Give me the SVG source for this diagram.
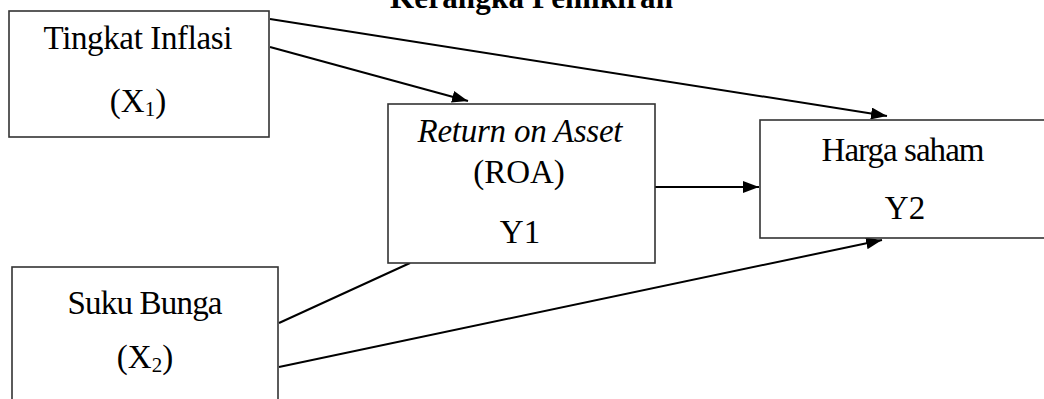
<svg xmlns="http://www.w3.org/2000/svg" width="1044" height="399" viewBox="0 0 1044 399">
<style>
.box{fill:#fff;stroke:#333;stroke-width:1.6}
.t{font-family:"Liberation Serif","Times New Roman",serif;font-size:33px;fill:#000;text-anchor:middle}
.it{font-style:italic}
.title{font-family:"Liberation Serif","Times New Roman",serif;font-size:31px;font-weight:bold;fill:#000}
.c{stroke:#000;stroke-width:2;fill:none}
</style>
<defs>
<marker id="ah" viewBox="0 0 16 12" refX="16" refY="6" markerWidth="16" markerHeight="12" markerUnits="userSpaceOnUse" orient="auto">
<path d="M0,0 L16,6 L0,12 Z" fill="#000"/>
</marker>
</defs>
<rect width="1044" height="399" fill="#fff"/>
<text class="title" x="390" y="8" textLength="283">Kerangka Pemikiran</text>
<g id="connectors">
<line class="c" x1="270" y1="19" x2="887" y2="116" marker-end="url(#ah)"/>
<line class="c" x1="270" y1="47" x2="468" y2="101" marker-end="url(#ah)"/>
<line class="c" x1="655" y1="187" x2="759" y2="187" marker-end="url(#ah)"/>
<line class="c" x1="279" y1="323" x2="410" y2="263"/>
<line class="c" x1="279" y1="367" x2="882" y2="240" marker-end="url(#ah)"/>
</g>
<g id="n_inflasi">
<rect class="box" x="9" y="11" width="260" height="126"/>
<text class="t" x="138" y="49" textLength="189">Tingkat Inflasi</text>
<text class="t" x="138" y="112">(X<tspan font-size="21" dy="4">1</tspan><tspan dy="-4">)</tspan></text>
</g>
<g id="n_bunga">
<rect class="box" x="12" y="267" width="266" height="150"/>
<text class="t" x="145" y="314" textLength="155">Suku Bunga</text>
<text class="t" x="145" y="368">(X<tspan font-size="21" dy="4">2</tspan><tspan dy="-4">)</tspan></text>
</g>
<g id="n_roa">
<rect class="box" x="388" y="104" width="267" height="159"/>
<text class="t it" x="520" y="142" textLength="205">Return on Asset</text>
<text class="t" x="519" y="183">(ROA)</text>
<text class="t" x="520" y="243">Y1</text>
</g>
<g id="n_harga">
<rect class="box" x="760" y="120" width="300" height="118"/>
<text class="t" x="903" y="161" textLength="163">Harga saham</text>
<text class="t" x="905" y="219">Y2</text>
</g>
</svg>
